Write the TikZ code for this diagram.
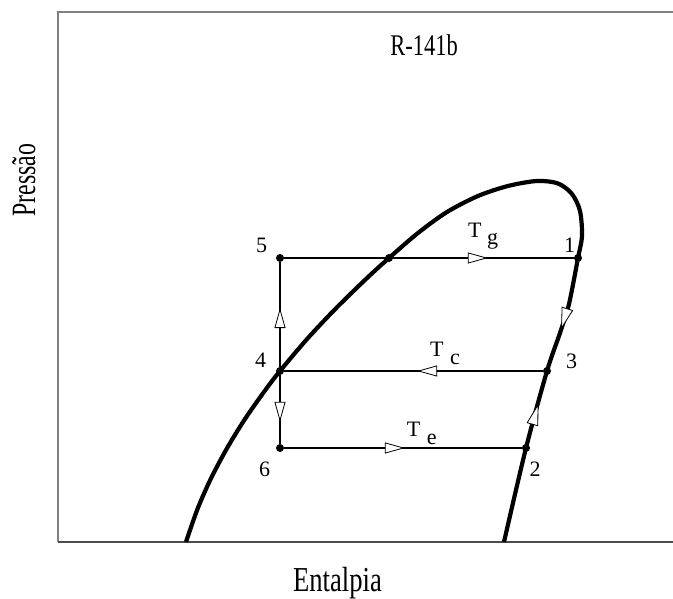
\documentclass[tikz,border=0pt]{standalone}
\usepackage{fontspec}
\usepackage{graphicx}
\setmainfont{Liberation Serif}
\usetikzlibrary{arrows.meta,decorations.markings}
\newcommand{\condensed}[2]{\scalebox{#1}[1]{#2}}
\begin{document}
\begin{tikzpicture}[x=1pt,y=1pt,
  small/.style={font=\fontsize{22}{26}\selectfont, inner sep=0pt, anchor=base},
  subl/.style={font=\fontsize{22}{26}\selectfont, inner sep=0pt, anchor=base west},
  big/.style={inner sep=0pt, anchor=base},
  dot/.style={circle, fill=black, inner sep=0pt, minimum size=8pt},
  cyc/.style={line width=2.8pt},
  dome/.style={line width=4.2pt, line join=round},
  frame/.style={line width=1.5pt, draw=black!50},
  openhead/.tip={Triangle[length=20pt,width=11pt,fill=white,line width=0.8pt 0]},
  headat/.style={postaction={decorate}, decoration={markings, mark=at position #1 with {\arrow{openhead}}}},
  headdraw/.style={draw=black, fill=white, line width=0.8pt, line join=miter},
]
\useasboundingbox (0,0) rectangle (673,599);

% frame
\coordinate (ftr) at (673,587);
\coordinate (ftl) at (58,587);
\coordinate (fbl) at (58,57);
\coordinate (fbr) at (673,57);
\draw[frame] (ftr) -- (ftl) -- (fbl);
\draw[frame, draw=black!70] (fbl) -- (fbr);

% state points
\node[dot] (n1) at (578,341) {};
\node[dot] (n2) at (526,151) {};
\node[dot] (n3) at (547,228) {};
\node[dot] (n4) at (280,228) {};
\node[dot] (n5) at (280,341) {};
\node[dot] (n6) at (280,151) {};
\node[dot] (nx) at (389,341) {};

% saturation dome
\draw[dome] plot[smooth, tension=0.5] coordinates {(186,57) (197.5,90) (210.7,120) (226.6,150) (245,180) (266.1,210) (n4.center) (307.1,260) (335.3,290) (366,320) (nx.center) (418,366) (447,387) (478,403) (508,413) (537,418) (558,415.5) (572,405) (580,388) (582,363) (n1.center) (569,295) (560,266) (n3.center) (n2.center) (504,57)};

% cycle lines
\draw[cyc, headat=0.703] (n5) -- (n1);
\draw[cyc, headat=0.486] (n3) -- (n4);
\draw[cyc, headat=0.508] (n6) -- (n2);
\draw[cyc, headat=0.562] (n4) -- (n5);
\draw[cyc, headat=0.68] (n4) -- (n6);

% arrowheads on the dome
\coordinate (ca) at (561.5,271);
\coordinate (cb) at (538,194);
\draw[headdraw, shift={(ca)}, rotate=253] (0,0) -- (-20,5.5) -- (-20,-5.5) -- cycle;
\draw[headdraw, shift={(cb)}, rotate=74] (0,0) -- (-20,5.5) -- (-20,-5.5) -- cycle;

% labels
\node[small] (l5) at (261.5,346) {5};
\node[small] (l1) at (569.5,346) {1};
\node[small] (l4) at (260.5,231) {4};
\node[small] (l3) at (571.5,230) {3};
\node[small] (l6) at (264.7,122) {6};
\node[small] (l2) at (535,122) {2};
\node[subl] (tgT) at (468,361) {T};
\node[subl] (tgs) at (487,354) {g};
\node[subl] (tcT) at (430,242) {T};
\node[subl] (tcs) at (450,234) {c};
\node[subl] (teT) at (406.7,162) {T};
\node[subl] (tes) at (426.7,154) {e};
\node[big, font=\fontsize{30}{34}\selectfont] (title) at (424,543) {\condensed{0.75}{R-141b}};
\node[big, font=\fontsize{35}{40}\selectfont] (xl) at (337.5,7.5) {\condensed{0.76}{Entalpia}};
\node[big, font=\fontsize{34}{38}\selectfont, rotate=90] (yl) at (35,419) {\condensed{0.7}{Pressão}};
\end{tikzpicture}
\end{document}
